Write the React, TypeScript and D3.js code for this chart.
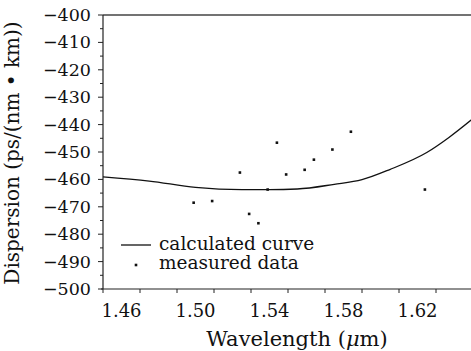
import React from 'react';
import * as d3 from 'd3';

// calculated curve (wavelength in um, dispersion in ps/(nm km))
const curveX = [1.45, 1.475, 1.50, 1.525, 1.54, 1.555, 1.575, 1.59, 1.605, 1.625, 1.637, 1.65];
const curveY = [-459.1, -460.6, -462.9, -463.7, -463.7, -463.5, -461.8, -460.1, -456.4, -450.2, -444.7, -437.8];

// measured data
const measX = [1.499, 1.509, 1.524, 1.529, 1.534, 1.539, 1.544, 1.549, 1.559, 1.564, 1.574, 1.584, 1.624];
const measY = [-468.5, -467.9, -457.5, -472.6, -476.0, -463.7, -446.6, -458.2, -456.5, -452.8, -449.1, -442.6, -463.7];

const xTicks = [1.46, 1.50, 1.54, 1.58, 1.62];
const yTicks = [-400, -410, -420, -430, -440, -450, -460, -470, -480, -490, -500];

const W = 471;
const H = 351;
const left = 103;
const top = 15;
const bottom = 289;

const font = "'DejaVu Serif', serif";

export default function App() {
  const x = d3.scaleLinear().domain([1.45, 1.65]).range([left, left + 370]);
  const y = d3.scaleLinear().domain([-500, -400]).range([bottom, top]);

  const line = d3
    .line<number>()
    .x((_, i) => x(curveX[i]))
    .y((d) => y(d))
    .curve(d3.curveMonotoneX);

  const xMinor = d3.range(1.45, 1.6501, 0.02).map((v) => +v.toFixed(2));
  const yMinor = d3.range(-500, -399, 5);
  const fmtY = (v: number) => (v < 0 ? '\u2212' + Math.abs(v) : String(v));

  return (
    <svg
      width={W}
      height={H}
      style={{ position: 'absolute', left: 0, top: 0, background: '#fff', fontFamily: font }}
    >
      <rect width={W} height={H} fill="#fff" />
      {/* frame */}
      <line x1={left} x2={W} y1={top} y2={top} stroke="#444" strokeWidth={1.5} />
      <line x1={left} x2={left} y1={top} y2={bottom} stroke="#222" strokeWidth={1.2} />
      <line x1={left - 2} x2={W} y1={bottom} y2={bottom} stroke="#222" strokeWidth={1.2} />

      {/* y ticks */}
      {yMinor.map((v) => {
        const major = v % 10 === 0;
        return (
          <line key={'ym' + v} x1={left - (major ? 5 : 3)} x2={left} y1={y(v)} y2={y(v)} stroke="#222" strokeWidth={1} />
        );
      })}
      {yTicks.map((v) => (
        <text key={'yt' + v} x={left - 12} y={y(v) + 6} textAnchor="end" fontSize={17.5} fill="#111">
          {fmtY(v)}
        </text>
      ))}

      {/* x ticks */}
      {xMinor.map((v) => {
        const major = xTicks.some((t) => Math.abs(t - v) < 1e-6);
        return (
          <line key={'xm' + v} x1={x(v)} x2={x(v)} y1={bottom} y2={bottom + (major ? 5 : 4)} stroke="#222" strokeWidth={1} />
        );
      })}
      {xTicks.map((v) => (
        <text key={'xt' + v} x={x(v)} y={bottom + 27.5} textAnchor="middle" fontSize={18} fill="#111">
          {v.toFixed(2)}
        </text>
      ))}

      {/* axis titles */}
      <text x={297} y={346} textAnchor="middle" fontSize={21} fill="#111">
        Wavelength (<tspan fontStyle="italic">μ</tspan>m)
      </text>
      <text
        transform={`translate(19,${153}) rotate(-90)`}
        textAnchor="middle"
        fontSize={20}
        fill="#111"
      >
        Dispersion (ps/(nm • km))
      </text>

      {/* curve */}
      <path d={line(curveY) || ''} fill="none" stroke="#111" strokeWidth={1.3} />

      {/* measured points */}
      {measX.map((v, i) => (
        <rect key={'p' + i} x={x(v) - 1.3} y={y(measY[i]) - 1.3} width={2.6} height={2.6} fill="#111" />
      ))}

      {/* legend */}
      <line x1={121} x2={151} y1={245} y2={245} stroke="#111" strokeWidth={1.3} />
      <text x={159} y={250} fontSize={18.5} fill="#111">
        calculated curve
      </text>
      <rect x={134.7} y={263.7} width={2.6} height={2.6} fill="#111" />
      <text x={159} y={269} fontSize={18.5} fill="#111">
        measured data
      </text>
    </svg>
  );
}
